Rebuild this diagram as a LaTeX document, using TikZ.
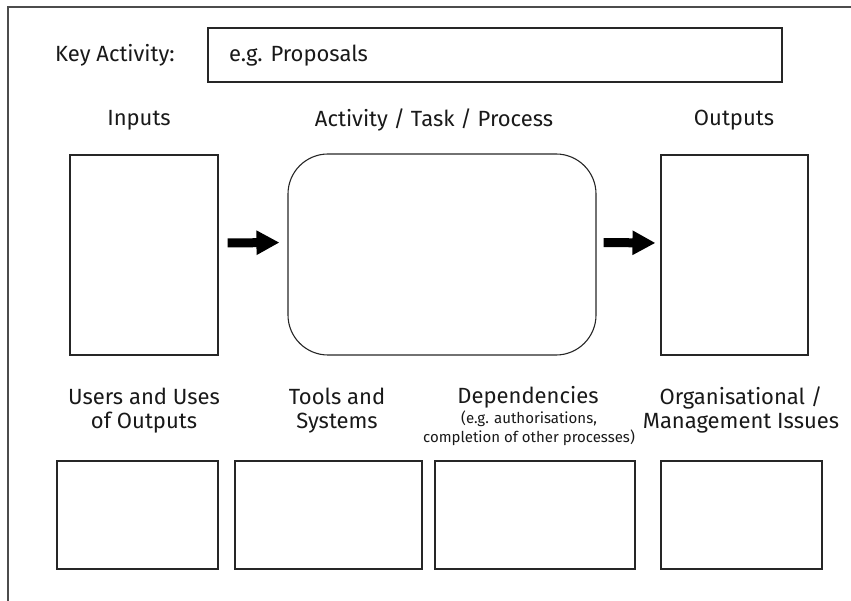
\documentclass[tikz,border=0pt]{standalone}
\usepackage{fontspec}
\setmainfont{Fira Sans}
\usetikzlibrary{arrows.meta}
\begin{document}
\begin{tikzpicture}[x=1pt,y=-1pt,
  frameline/.style={draw=black!70, line width=1.2pt},
  box/.style={draw=black!85, line width=1.1pt, inner sep=0pt, rectangle},
  lbl/.style={font=\fontsize{22}{24}\selectfont, text=black!90, inner sep=0pt, align=center},
  small/.style={font=\fontsize{15}{19}\selectfont, text=black!90, inner sep=0pt, align=center},
  fat/.style={line width=9pt, -{Triangle[length=23pt,width=23pt]}, black}]
\useasboundingbox (0,0) rectangle (851,601);
\coordinate (ftr) at (851,7);
\coordinate (ftl) at (8,7);
\coordinate (fbl) at (8,601);
\draw[frameline] (ftr) -- (ftl) -- (fbl);

\node[lbl, anchor=base west] (key) at (55,62) {Key Activity:};
\node[box, minimum width=574pt, minimum height=54pt] (keybox) at (495,55) {};
\node[lbl, anchor=base west] (prop) at (229,62) {e.g. Proposals};

\node[lbl, anchor=base] (inl) at (139,126) {Inputs};
\node[lbl, anchor=base] (actl) at (434,127) {Activity / Task / Process};
\node[lbl, anchor=base] (outl) at (734,126) {Outputs};

\node[box, minimum width=148pt, minimum height=200pt] (inbox) at (144,255) {};
\node[box, rounded corners=40pt, minimum width=308pt, minimum height=201pt] (act) at (442,254.5) {};
\node[box, minimum width=147pt, minimum height=200pt] (outbox) at (734.5,255) {};

\draw[fat, shorten <=9pt, shorten >=8pt] ([yshift=12pt]inbox.east) -- ([yshift=12pt]act.west);
\draw[fat, shorten <=7pt, shorten >=5pt] ([yshift=12pt]act.east) -- ([yshift=12pt]outbox.west);

\node[lbl, anchor=base] (usersl) at (144,428) {Users and Uses\\of Outputs};
\node[lbl, anchor=base] (toolsl) at (337,428) {Tools and\\Systems};
\node[lbl, anchor=base] (depl) at (528,403) {Dependencies};
\node[small, anchor=base] (depsl) at (529,442) {(e.g. authorisations,\\completion of other processes)};
\node[lbl, anchor=base] (orgl) at (741,428) {Organisational /\\Management Issues};

\node[box, minimum width=161pt, minimum height=108pt] (b1) at (137.5,515) {};
\node[box, minimum width=187pt, minimum height=108pt] (b2) at (328.5,515) {};
\node[box, minimum width=200pt, minimum height=108pt] (b3) at (535,515) {};
\node[box, minimum width=161pt, minimum height=108pt] (b4) at (741.5,515) {};
\end{tikzpicture}
\end{document}
